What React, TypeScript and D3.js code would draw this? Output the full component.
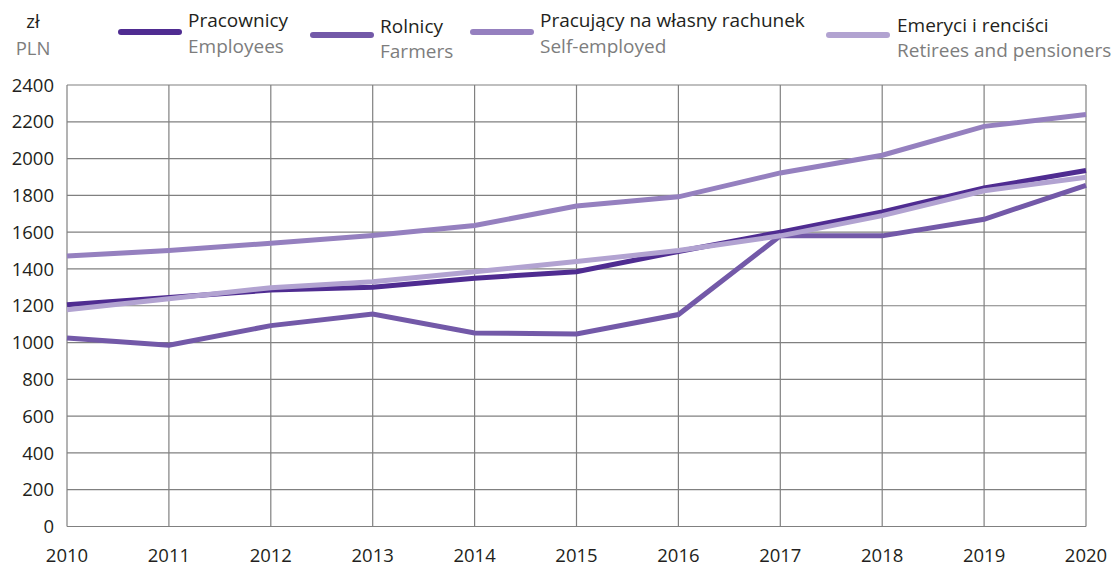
import React from "react";
import * as d3 from "d3";

const years = [2010, 2011, 2012, 2013, 2014, 2015, 2016, 2017, 2018, 2019, 2020];
const yTicks = [0, 200, 400, 600, 800, 1000, 1200, 1400, 1600, 1800, 2000, 2200, 2400];

const employees = [1205, 1245, 1285, 1300, 1350, 1385, 1495, 1600, 1710, 1840, 1935];
const farmers = [1025, 985, 1092, 1155, 1052, 1046, 1152, 1580, 1580, 1670, 1855];
const selfEmployed = [1470, 1500, 1540, 1582, 1636, 1742, 1792, 1922, 2018, 2175, 2240];
const retirees = [1178, 1238, 1298, 1330, 1385, 1440, 1500, 1580, 1690, 1825, 1898];

const seriesNames = [
  { pl: "Pracownicy", en: "Employees" },
  { pl: "Rolnicy", en: "Farmers" },
  { pl: "Pracujący na własny rachunek", en: "Self-employed" },
  { pl: "Emeryci i renciści", en: "Retirees and pensioners" },
];
const seriesValues = [employees, farmers, selfEmployed, retirees];
const colors = ["#4f2c91", "#7359a8", "#9580bf", "#b2a3d1"];

const legendPos = [
  { lx1: 121, lx2: 179, ly: 32, tx: 188, t1: 27, t2: 53 },
  { lx1: 313, lx2: 371, ly: 35, tx: 380, t1: 33, t2: 58 },
  { lx1: 473, lx2: 531, ly: 32, tx: 540, t1: 27, t2: 53 },
  { lx1: 829, lx2: 887, ly: 35, tx: 897, t1: 32, t2: 57 },
];

const FONT = "'Open Sans', 'Noto Sans', sans-serif";

export default function App() {
  const W = 1119, H = 567;
  const x = d3.scaleLinear().domain([2010, 2020]).range([67, 1086]);
  const y = d3.scaleLinear().domain([0, 2400]).range([526.5, 85]);
  const line = d3.line<number>().x((_, i) => x(years[i])).y((d) => y(d));
  const gridColor = "#808080";

  return (
    <svg width={W} height={H} style={{ position: "absolute", left: 0, top: 0 }} fontFamily={FONT}>
      <rect width={W} height={H} fill="#fff" />
      {yTicks.map((t) => (
        <g key={"y" + t}>
          <line x1={x(2010)} x2={x(2020)} y1={y(t)} y2={y(t)} stroke={gridColor} strokeWidth={1.2} />
          <text x={54} y={y(t)} dy="0.36em" textAnchor="end" fontSize={18.5} fill="#231f20">{t}</text>
        </g>
      ))}
      {years.map((yr) => (
        <g key={"x" + yr}>
          <line x1={x(yr)} x2={x(yr)} y1={y(0)} y2={y(2400)} stroke={gridColor} strokeWidth={1.2} />
          <text x={x(yr)} y={562} textAnchor="middle" fontSize={18.5} fill="#231f20">{yr}</text>
        </g>
      ))}
      {seriesValues.map((vals, i) => (
        <path key={"s" + i} d={line(vals) || ""} fill="none" stroke={colors[i]} strokeWidth={5} />
      ))}
      <text x={33} y={28} textAnchor="middle" fontSize={18.5} fill="#231f20">zł</text>
      <text x={33} y={55} textAnchor="middle" fontSize={18.5} fill="#7d7d7d">PLN</text>
      {seriesNames.map((s, i) => {
        const p = legendPos[i];
        return (
          <g key={"l" + i}>
            <line x1={p.lx1} x2={p.lx2} y1={p.ly} y2={p.ly} stroke={colors[i]} strokeWidth={6} strokeLinecap="round" />
            <text x={p.tx} y={p.t1} fontSize={19} fill="#231f20">{s.pl}</text>
            <text x={p.tx} y={p.t2} fontSize={19} fill="#7d7d7d">{s.en}</text>
          </g>
        );
      })}
    </svg>
  );
}
